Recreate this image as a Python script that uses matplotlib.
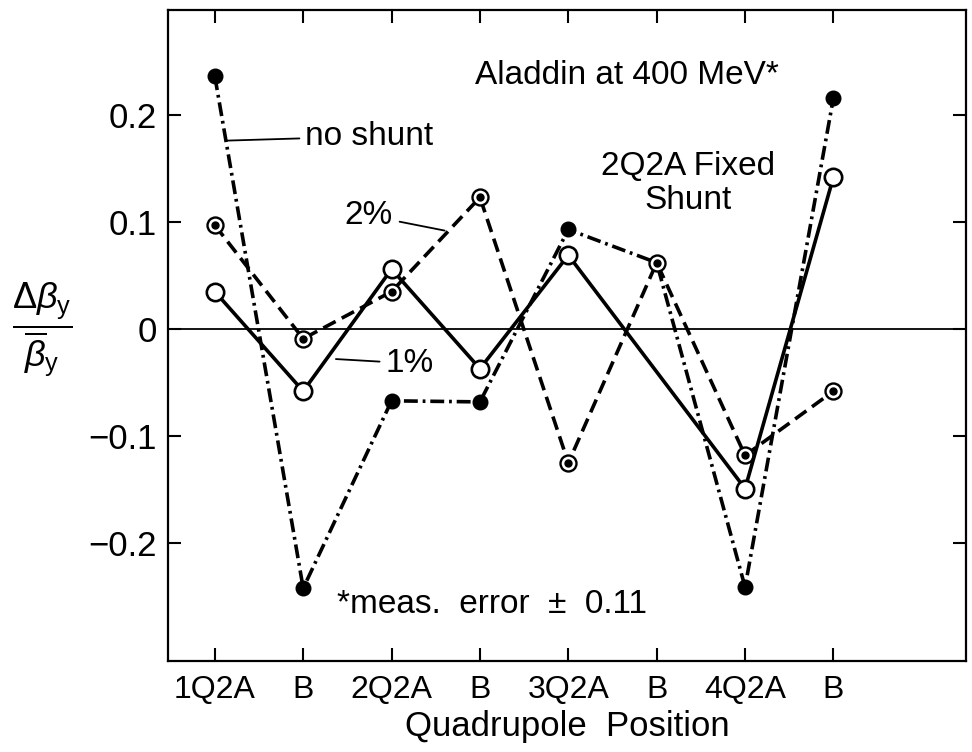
import numpy as np
import matplotlib
matplotlib.use("Agg")
import matplotlib.pyplot as plt

plt.rcParams['font.family'] = ['Liberation Sans', 'DejaVu Sans']
plt.rcParams['mathtext.fontset'] = 'custom'
plt.rcParams['mathtext.rm'] = 'Liberation Sans'
plt.rcParams['mathtext.it'] = 'Liberation Sans:italic'
plt.rcParams['mathtext.bf'] = 'Liberation Sans:bold'
plt.rcParams['lines.scale_dashes'] = False

# ---- data ----
positions = ["1Q2A", "B", "2Q2A", "B", "3Q2A", "B", "4Q2A", "B"]
no_shunt = [0.236, -0.242, -0.067, -0.068, 0.093, 0.062, -0.241, 0.216]
shunt_2pct = [0.097, -0.009, 0.035, 0.123, -0.125, 0.062, -0.118, -0.058]
shunt_1pct = [0.035, -0.058, 0.056, -0.037, 0.069, np.nan, -0.149, 0.142]

x = np.arange(len(positions))

fig = plt.figure(figsize=(9.72, 7.52), dpi=100)
ax = fig.add_axes([168/972, 1-661/752, (966-168)/972, (661-10)/752])

ax.axhline(0, color='black', lw=1.3, zorder=1)

lw = 2.6
# no shunt: dash-dot, filled circles
l1, = ax.plot(x, no_shunt, color='black', lw=lw, marker='o', ms=10.5,
              mfc='black', mec='black', zorder=3)
l1.set_dashes((10, 3.5, 2, 3.5))

# 2 %: dashed, circles with centre dot
y2 = np.array(shunt_2pct)
l2, = ax.plot(x, y2, color='black', lw=lw, marker='o', ms=11.5,
              mfc='white', mec='black', mew=1.7, zorder=4)
l2.set_dashes((10, 5))
ax.plot(x, y2, ls='none', marker='o', ms=5, color='black', zorder=5)

# 1 %: solid, open circles (missing value skipped, line kept continuous)
y1 = np.array(shunt_1pct)
m = ~np.isnan(y1)
ax.plot(x[m], y1[m], color='black', lw=lw, marker='o', ms=12.5,
        mfc='white', mec='black', mew=1.9, zorder=4)

ax.set_xlim(-0.53, 8.5)
ax.set_ylim(-0.31, 0.298)
ax.set_xticks(x)
ax.set_xticklabels(positions)
ax.set_yticks([-0.2, -0.1, 0, 0.1, 0.2])
ax.set_yticklabels(["\u22120.2", "\u22120.1", "0", "0.1", "0.2"])
ax.tick_params(direction='in', length=9.5, width=1.5,
               top=True, right=True)
ax.tick_params(axis='x', labelsize=23, pad=10)
ax.tick_params(axis='y', labelsize=25, pad=8)
for s in ax.spines.values():
    s.set_linewidth(1.6)

ax.set_xlabel("Quadrupole  Position", fontsize=25, labelpad=4)

fs = 24
ax.text(2.94, 0.237, "Aladdin at 400 MeV*", fontsize=fs, va='center', ha='left')
ax.text(5.36, 0.136, "2Q2A Fixed\nShunt", fontsize=fs, va='center', ha='center',
        linespacing=1.15)
ax.text(1.38, -0.257, "*meas.  error  \u00b1  0.11", fontsize=fs, va='center', ha='left')

ax.annotate("no shunt", xy=(0.13, 0.176), xytext=(1.02, 0.18), fontsize=fs,
            va='center', ha='left',
            arrowprops=dict(arrowstyle='-', lw=1.3, color='black', shrinkA=2, shrinkB=0))
ax.annotate("2%", xy=(2.6, 0.092), xytext=(1.74, 0.106), fontsize=fs,
            va='center', ha='center',
            arrowprops=dict(arrowstyle='-', lw=1.3, color='black', shrinkA=3, shrinkB=0))
ax.annotate("1%", xy=(1.37, -0.028), xytext=(2.2, -0.032), fontsize=fs,
            va='center', ha='center',
            arrowprops=dict(arrowstyle='-', lw=1.3, color='black', shrinkA=2, shrinkB=0))

fig.text(42/972, 1-330/752,
         r'$\dfrac{\Delta\beta_{\mathrm{y}}}{\overline{\beta}_{\mathrm{y}}}$',
         fontsize=26, ha='center', va='center')

fig.savefig("out.png", dpi=100)
